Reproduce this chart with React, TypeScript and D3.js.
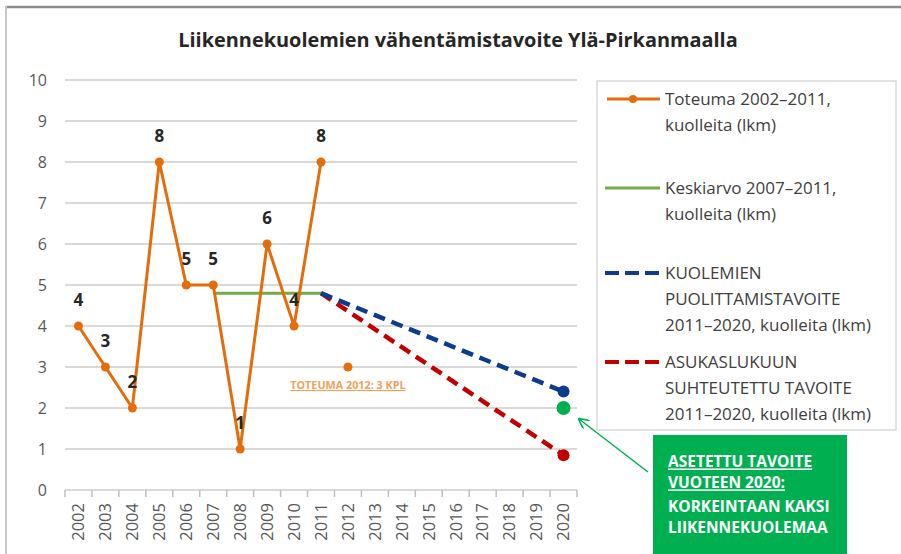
import React, { useEffect, useRef } from 'react';
import * as d3 from 'd3';

// categories
const years = d3.range(2002, 2021).map(String);
const yTicks = d3.range(0, 11);

// Toteuma 2002–2011
const toteumaYears = ['2002', '2003', '2004', '2005', '2006', '2007', '2008', '2009', '2010', '2011'];
const toteumaValues = [4, 3, 2, 8, 5, 5, 1, 6, 4, 8];

// Toteuma 2012 (single point)
const toteuma2012Year = '2012';
const toteuma2012Value = 3;

// Keskiarvo 2007–2011
const keskiarvoYears = ['2007', '2011'];
const keskiarvoValues = [4.8, 4.8];

// Puolittamistavoite
const puolitusYears = ['2011', '2020'];
const puolitusValues = [4.8, 2.4];

// Asukaslukuun suhteutettu tavoite
const asukasYears = ['2011', '2020'];
const asukasValues = [4.8, 0.85];

// Asetettu tavoite
const tavoiteYear = '2020';
const tavoiteValue = 2;

const legendItems = [
  { key: 'toteuma', lines: ['Toteuma 2002–2011,', 'kuolleita (lkm)'] },
  { key: 'keskiarvo', lines: ['Keskiarvo 2007–2011,', 'kuolleita (lkm)'] },
  { key: 'puolitus', lines: ['KUOLEMIEN', 'PUOLITTAMISTAVOITE', '2011–2020, kuolleita (lkm)'] },
  { key: 'asukas', lines: ['ASUKASLUKUUN', 'SUHTEUTETTU TAVOITE', '2011–2020, kuolleita (lkm)'] },
];

const boxLines = ['ASETETTU TAVOITE', 'VUOTEEN 2020:', 'KORKEINTAAN KAKSI', 'LIIKENNEKUOLEMAA'];

const ORANGE = '#e46c0a';
const GREEN = '#70ad47';
const BLUE = '#0d3c8c';
const RED = '#c00000';
const BRIGHT_GREEN = '#00b050';
const FONT = '"Open Sans", Lato, sans-serif';

const App = () => {
  const svgRef = useRef<SVGSVGElement>(null);

  useEffect(() => {
    document.body.style.margin = '0';
    const width = 901, height = 554;
    const svg = d3.select(svgRef.current);
    svg.selectAll('*').remove();
    svg.attr('width', width).attr('height', height).style('background', 'white').style('display', 'block');

    // chart frame
    svg.append('line').attr('x1', 6).attr('x2', 901).attr('y1', 7).attr('y2', 7)
      .attr('stroke', '#8c8c8c').attr('stroke-width', 2.5);
    svg.append('line').attr('x1', 6).attr('x2', 6).attr('y1', 6).attr('y2', 554)
      .attr('stroke', '#c8c8c8').attr('stroke-width', 2);

    svg.append('text')
      .attr('x', 458).attr('y', 47)
      .attr('text-anchor', 'middle')
      .style('font-family', FONT).style('font-size', '19.9px').style('font-weight', 'bold')
      .attr('fill', '#262626')
      .text('Liikennekuolemien vähentämistavoite Ylä-Pirkanmaalla');

    const x = d3.scaleBand().domain(years).range([65, 577]);
    const cx = (d: string) => (x(d) as number) + x.bandwidth() / 2;
    const y = d3.scaleLinear().domain([0, 10]).range([490, 80]);

    // gridlines
    svg.append('g').selectAll('line').data(yTicks).enter().append('line')
      .attr('x1', 65).attr('x2', 577)
      .attr('y1', d => y(d)).attr('y2', d => y(d))
      .attr('stroke', '#d9d9d9').attr('stroke-width', 2);

    // y labels
    svg.append('g').selectAll('text').data(yTicks).enter().append('text')
      .attr('x', 47).attr('y', d => y(d)).attr('dy', '0.35em')
      .attr('text-anchor', 'end')
      .style('font-family', FONT).style('font-size', '16px')
      .attr('fill', '#595959')
      .text(d => d);

    // x axis ticks
    const bounds = years.map(d => x(d) as number).concat([577]);
    svg.append('g').selectAll('line').data(bounds).enter().append('line')
      .attr('x1', d => d).attr('x2', d => d)
      .attr('y1', 490).attr('y2', 497)
      .attr('stroke', '#bfbfbf').attr('stroke-width', 1.5);

    svg.append('g').selectAll('text').data(years).enter().append('text')
      .attr('transform', d => `translate(${cx(d)},503) rotate(-90)`)
      .attr('dy', '0.35em')
      .attr('text-anchor', 'end')
      .style('font-family', FONT).style('font-size', '16.5px')
      .attr('fill', '#595959')
      .text(d => d);

    const line = d3.line<[string, number]>().x(d => cx(d[0])).y(d => y(d[1]));

    // Keskiarvo
    svg.append('path')
      .attr('d', line(keskiarvoYears.map((d, i) => [d, keskiarvoValues[i]] as [string, number])))
      .attr('fill', 'none').attr('stroke', GREEN).attr('stroke-width', 3);

    // Asukas (red dashed)
    svg.append('path')
      .attr('d', line(asukasYears.map((d, i) => [d, asukasValues[i]] as [string, number])))
      .attr('fill', 'none').attr('stroke', RED).attr('stroke-width', 4.5)
      .attr('stroke-dasharray', '12,7');
    svg.append('circle')
      .attr('cx', cx(asukasYears[1])).attr('cy', y(asukasValues[1])).attr('r', 6)
      .attr('fill', RED);

    // Puolitus (blue dashed)
    svg.append('path')
      .attr('d', line(puolitusYears.map((d, i) => [d, puolitusValues[i]] as [string, number])))
      .attr('fill', 'none').attr('stroke', BLUE).attr('stroke-width', 4.5)
      .attr('stroke-dasharray', '12,7');
    svg.append('circle')
      .attr('cx', cx(puolitusYears[1])).attr('cy', y(puolitusValues[1])).attr('r', 6)
      .attr('fill', BLUE);

    // Asetettu tavoite
    svg.append('circle')
      .attr('cx', cx(tavoiteYear)).attr('cy', y(tavoiteValue)).attr('r', 7)
      .attr('fill', BRIGHT_GREEN);

    // Toteuma
    const tot = toteumaYears.map((d, i) => [d, toteumaValues[i]] as [string, number]);
    svg.append('path')
      .attr('d', line(tot))
      .attr('fill', 'none').attr('stroke', ORANGE).attr('stroke-width', 3)
      .attr('stroke-linejoin', 'round');
    svg.append('g').selectAll('circle').data(tot).enter().append('circle')
      .attr('cx', d => cx(d[0])).attr('cy', d => y(d[1])).attr('r', 4.5)
      .attr('fill', ORANGE);
    svg.append('g').selectAll('text').data(tot).enter().append('text')
      .attr('x', d => cx(d[0])).attr('y', d => y(d[1]) - 20)
      .attr('text-anchor', 'middle')
      .style('font-family', FONT).style('font-size', '17px').style('font-weight', 'bold')
      .attr('fill', '#262626')
      .text(d => d[1]);

    // Toteuma 2012
    svg.append('circle')
      .attr('cx', cx(toteuma2012Year)).attr('cy', y(toteuma2012Value)).attr('r', 4.5)
      .attr('fill', ORANGE);
    svg.append('text')
      .attr('x', cx(toteuma2012Year)).attr('y', y(toteuma2012Value) + 22)
      .attr('text-anchor', 'middle')
      .style('font-family', FONT).style('font-size', '10.8px').style('font-weight', 'bold')
      .style('text-decoration', 'underline')
      .attr('fill', '#f2a15a')
      .text(`TOTEUMA 2012: ${toteuma2012Value} KPL`);

    // legend
    const lg = svg.append('g');
    lg.append('rect')
      .attr('x', 597).attr('y', 81).attr('width', 299).attr('height', 349)
      .attr('fill', 'white').attr('stroke', '#d9d9d9').attr('stroke-width', 1.5);
    const legendY = [99, 188, 273, 362];
    legendItems.forEach((item, i) => {
      const ly = legendY[i];
      if (item.key === 'toteuma') {
        lg.append('line').attr('x1', 607).attr('x2', 660).attr('y1', ly).attr('y2', ly)
          .attr('stroke', ORANGE).attr('stroke-width', 3);
        lg.append('circle').attr('cx', 633).attr('cy', ly).attr('r', 4).attr('fill', ORANGE);
      } else if (item.key === 'keskiarvo') {
        lg.append('line').attr('x1', 605).attr('x2', 660).attr('y1', ly).attr('y2', ly)
          .attr('stroke', GREEN).attr('stroke-width', 3);
      } else {
        lg.append('line').attr('x1', 605).attr('x2', 662).attr('y1', ly).attr('y2', ly)
          .attr('stroke', item.key === 'puolitus' ? BLUE : RED).attr('stroke-width', 4)
          .attr('stroke-dasharray', '14,6');
      }
      item.lines.forEach((t, j) => {
        lg.append('text')
          .attr('x', 665).attr('y', ly + j * 26).attr('dy', '0.35em')
          .style('font-family', FONT).style('font-size', '17px')
          .attr('fill', '#404040')
          .text(t);
      });
    });

    // arrow
    const defs = svg.append('defs');
    defs.append('marker')
      .attr('id', 'arrowhead').attr('viewBox', '0 0 10 10')
      .attr('refX', 9).attr('refY', 5)
      .attr('markerWidth', 7).attr('markerHeight', 7)
      .attr('orient', 'auto')
      .append('path').attr('d', 'M0,0 L10,5 L0,10').attr('fill', 'none')
      .attr('stroke', BRIGHT_GREEN).attr('stroke-width', 1.5);
    svg.append('line')
      .attr('x1', 648).attr('y1', 472).attr('x2', 579).attr('y2', 419)
      .attr('stroke', BRIGHT_GREEN).attr('stroke-width', 1.5)
      .attr('marker-end', 'url(#arrowhead)');

    // green box
    svg.append('rect')
      .attr('x', 653).attr('y', 435).attr('width', 194).attr('height', 119)
      .attr('fill', BRIGHT_GREEN);
    boxLines.forEach((t, i) => {
      svg.append('text')
        .attr('x', 668).attr('y', [462, 483, 507, 528][i]).attr('dy', '0.35em')
        .style('font-family', FONT).style('font-size', '15.5px').style('font-weight', 'bold')
        .style('text-decoration', i < 2 ? 'underline' : 'none')
        .attr('fill', 'white')
        .text(t);
    });
  }, []);

  return <svg ref={svgRef} />;
};

export default App;
